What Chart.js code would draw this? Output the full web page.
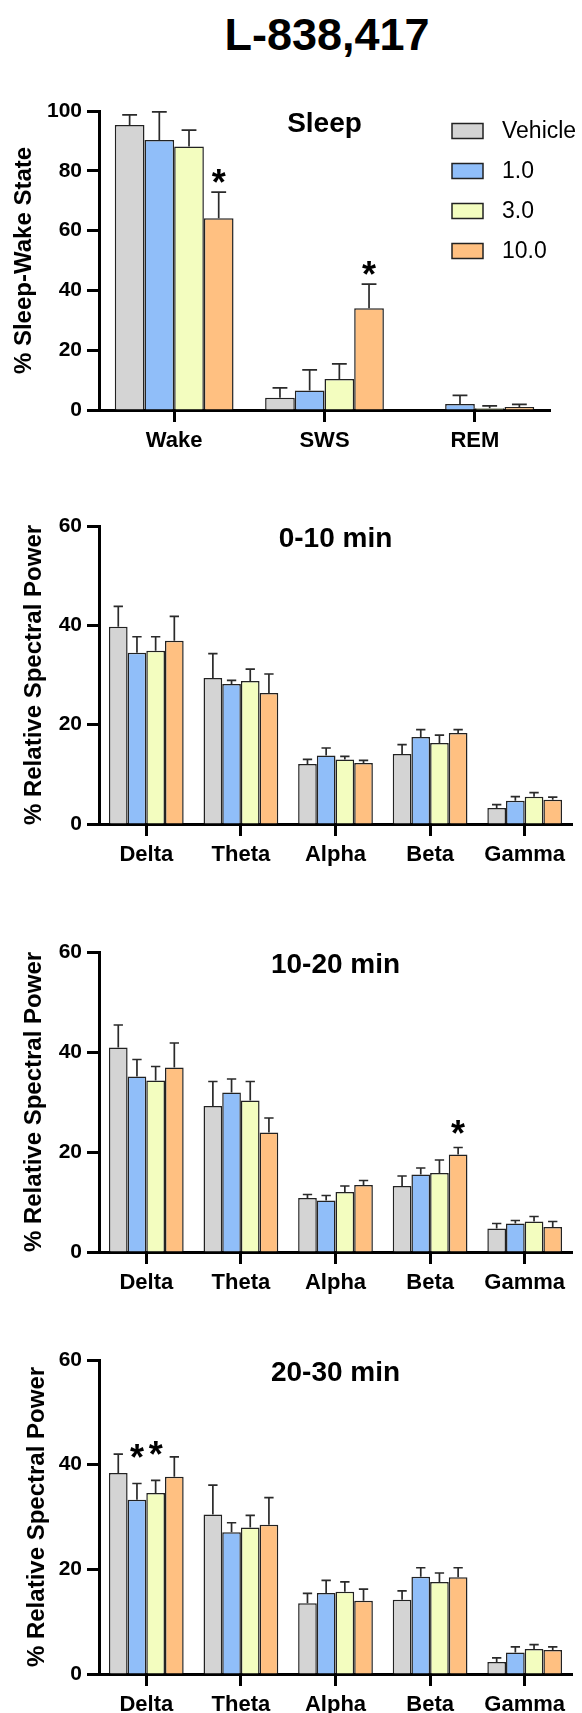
<!DOCTYPE html>
<html lang="en">
<head>
<meta charset="UTF-8">
<title>L-838,417</title>
<script src="https://cdn.jsdelivr.net/npm/chart.js"></script>
<style>
  html, body { margin: 0; padding: 0; background: #fff; overflow: hidden; }
  body { width: 582px; height: 1713px; position: relative; font-family: "Liberation Sans", Arial, sans-serif; }
  h1 { position: absolute; left: 99px; width: 456px; top: 12px; margin: 0; font-size: 45px; line-height: 45px; font-weight: bold; text-align: center; color: #000; }
  canvas { position: absolute; left: 0; }
</style>
</head>
<body>
<h1>L-838,417</h1>
<canvas id="sleep" width="582" height="390" style="top:70px"></canvas>
<canvas id="eeg1" width="582" height="384" style="top:490px"></canvas>
<canvas id="eeg2" width="582" height="386" style="top:916px"></canvas>
<canvas id="eeg3" width="582" height="389" style="top:1324px"></canvas>

<script>
const doses = ['Vehicle', '1.0', '3.0', '10.0'];
const doseColors = ['#d4d4d4', '#90bef9', '#f3fdbf', '#ffc081'];
const sleepStates = ['Wake', 'SWS', 'REM'];
const bands = ['Delta', 'Theta', 'Alpha', 'Beta', 'Gamma'];

// one row per dose (Vehicle, 1.0, 3.0, 10.0)
const sleepMean = [
  [95.3, 4.1, 0],
  [90.3, 6.5, 2.0],
  [88.1, 10.4, 0.6],
  [64.1, 34.0, 1.0]
];
const sleepErr = [
  [3.4, 3.3, 0],
  [9.4, 6.9, 2.9],
  [5.5, 5.0, 0.8],
  [8.8, 8.1, 0.9]
];
const sleepStars = [[3, 0], [3, 1]];

const power0to10Mean = [
  [39.7, 29.4, 12.1, 14.1, 3.2],
  [34.5, 28.2, 13.8, 17.5, 4.7],
  [34.9, 28.8, 13.0, 16.3, 5.5],
  [36.9, 26.4, 12.3, 18.3, 4.9]
];
const power0to10Err = [
  [4.1, 4.9, 0.9, 1.9, 0.7],
  [3.2, 0.7, 1.5, 1.5, 0.8],
  [2.8, 2.4, 0.6, 1.6, 0.8],
  [4.9, 3.8, 0.5, 0.7, 0.5]
];

const power10to20Mean = [
  [40.9, 29.2, 10.8, 13.2, 4.7],
  [35.1, 31.9, 10.3, 15.5, 5.7],
  [34.3, 30.3, 12.0, 15.8, 6.1],
  [36.9, 23.9, 13.4, 19.5, 5.0]
];
const power10to20Err = [
  [4.5, 4.9, 0.7, 2.0, 1.0],
  [3.4, 2.7, 1.0, 1.3, 0.6],
  [2.8, 3.8, 1.2, 2.6, 1.0],
  [4.9, 2.9, 0.9, 1.4, 1.1]
];
const power10to20Stars = [[3, 3]];

const power20to30Mean = [
  [38.4, 30.5, 13.5, 14.2, 2.3],
  [33.3, 27.1, 15.5, 18.6, 4.1],
  [34.6, 28.0, 15.7, 17.6, 4.8],
  [37.7, 28.5, 14.0, 18.5, 4.6]
];
const power20to30Err = [
  [3.6, 5.6, 1.9, 1.7, 0.8],
  [3.1, 1.8, 2.4, 1.7, 1.1],
  [2.4, 2.3, 1.9, 1.7, 0.8],
  [3.8, 5.2, 2.2, 1.8, 0.6]
];
const power20to30Stars = [[1, 0], [2, 0]];

const FONT = '"Liberation Sans", Arial, sans-serif';

// upper SEM whiskers + significance stars
const errorBars = {
  id: 'errorBars',
  afterDatasetsDraw(chart, args, opts) {
    const ctx = chart.ctx;
    const y = chart.scales.y;
    ctx.save();
    ctx.strokeStyle = '#2a2a2a';
    ctx.lineWidth = 1.7;
    chart.data.datasets.forEach((ds, i) => {
      chart.getDatasetMeta(i).data.forEach((bar, j) => {
        const e = ds.err[j];
        if (!e) return;
        const top = y.getPixelForValue(ds.data[j] + e);
        const half = bar.width / 4;
        ctx.beginPath();
        ctx.moveTo(bar.x, bar.y);
        ctx.lineTo(bar.x, top);
        ctx.moveTo(bar.x - half, top);
        ctx.lineTo(bar.x + half, top);
        ctx.stroke();
      });
    });
    ctx.fillStyle = '#000';
    ctx.font = 'bold 36px ' + FONT;
    ctx.textAlign = 'center';
    ctx.textBaseline = 'alphabetic';
    const gap = opts.gap || 20;
    (opts.stars || []).forEach(([i, j]) => {
      const ds = chart.data.datasets[i];
      const bar = chart.getDatasetMeta(i).data[j];
      const top = y.getPixelForValue(ds.data[j] + ds.err[j]);
      ctx.fillText('*', bar.x, top - gap + 0.57 * 36);
    });
    ctx.restore();
  }
};

const panelTitle = {
  id: 'panelTitle',
  afterDraw(chart, args, opts) {
    const {ctx, chartArea} = chart;
    ctx.save();
    ctx.fillStyle = '#000';
    ctx.font = 'bold 28px ' + FONT;
    ctx.textAlign = 'center';
    ctx.textBaseline = 'alphabetic';
    ctx.fillText(opts.text, (chartArea.left + chartArea.right) / 2, chartArea.top + 21);
    ctx.restore();
  }
};

const doseLegend = {
  id: 'doseLegend',
  afterDraw(chart, args, opts) {
    if (!opts.show) return;
    const {ctx, chartArea} = chart;
    const x0 = chartArea.right - 98;
    ctx.save();
    chart.data.datasets.forEach((ds, i) => {
      const cy = chartArea.top + 20 + i * 40;
      ctx.fillStyle = ds.backgroundColor;
      ctx.fillRect(x0, cy - 7.5, 31, 15);
      ctx.strokeStyle = '#222';
      ctx.lineWidth = 1.5;
      ctx.strokeRect(x0, cy - 7.5, 31, 15);
      ctx.fillStyle = '#000';
      ctx.font = '23px ' + FONT;
      ctx.textAlign = 'left';
      ctx.textBaseline = 'middle';
      ctx.fillText(ds.label, x0 + 50, cy + 1);
    });
    ctx.restore();
  }
};

function makeChart(id, labels, means, errs, o) {
  return new Chart(document.getElementById(id), {
    type: 'bar',
    data: {
      labels: labels,
      datasets: doses.map((d, i) => ({
        label: d,
        data: means[i],
        err: errs[i],
        backgroundColor: doseColors[i],
        borderColor: '#222',
        borderWidth: 1.5,
        categoryPercentage: 0.79,
        barPercentage: 1
      }))
    },
    options: {
      responsive: false,
      animation: false,
      devicePixelRatio: 1,
      layout: { padding: { left: 0, right: o.right, top: o.top, bottom: 0 } },
      plugins: {
        legend: { display: false },
        tooltip: { enabled: false },
        panelTitle: { text: o.title },
        errorBars: { stars: o.stars, gap: o.starGap },
        doseLegend: { show: !!o.legend }
      },
      scales: {
        x: {
          grid: { offset: false, drawOnChartArea: false, drawTicks: true, tickLength: 12, tickWidth: 3, tickColor: '#000' },
          border: { display: true, color: '#000', width: 3 },
          ticks: { color: '#000', font: { family: FONT, size: 22, weight: 'bold' }, padding: 6, maxRotation: 0, autoSkip: false },
          afterFit(s) { s.height = o.xh; }
        },
        y: {
          min: 0,
          max: o.max,
          ticks: { stepSize: 20, color: '#000', font: { family: FONT, size: 21, weight: 'bold' }, padding: 5 },
          grid: { drawOnChartArea: false, drawTicks: true, tickLength: 12, tickWidth: 3, tickColor: '#000' },
          border: { display: true, color: '#000', width: 3 },
          title: { display: true, text: o.yTitle, color: '#000', font: { family: FONT, size: 24, weight: 'bold' }, padding: { top: o.titlePad, bottom: 0 } },
          afterFit(s) { s.width = 99; }
        }
      }
    },
    plugins: [errorBars, panelTitle, doseLegend]
  });
}

makeChart('sleep', sleepStates, sleepMean, sleepErr,
  { title: 'Sleep', yTitle: '% Sleep-Wake State', max: 100, right: 32, top: 41, xh: 50, titlePad: 10, stars: sleepStars, starGap: 18, legend: true });
makeChart('eeg1', bands, power0to10Mean, power0to10Err,
  { title: '0-10 min', yTitle: '% Relative Spectral Power', max: 60, right: 10, top: 36, xh: 50, titlePad: 20, stars: [] });
makeChart('eeg2', bands, power10to20Mean, power10to20Err,
  { title: '10-20 min', yTitle: '% Relative Spectral Power', max: 60, right: 10, top: 36, xh: 50, titlePad: 20, stars: power10to20Stars, starGap: 22 });
makeChart('eeg3', bands, power20to30Mean, power20to30Err,
  { title: '20-30 min', yTitle: '% Relative Spectral Power', max: 60, right: 10, top: 36, xh: 39, titlePad: 23, stars: power20to30Stars, starGap: 34 });
</script>
</body>
</html>
